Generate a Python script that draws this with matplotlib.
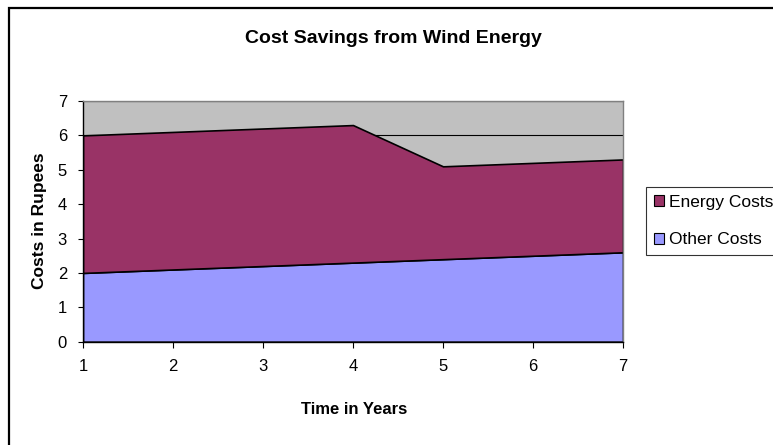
import matplotlib
matplotlib.use("Agg")
import matplotlib.pyplot as plt
from matplotlib.patches import Rectangle, Patch

years = [1, 2, 3, 4, 5, 6, 7]
other_costs = [2.0, 2.1, 2.2, 2.3, 2.4, 2.5, 2.6]
energy_costs = [4.0, 4.0, 4.0, 4.0, 2.7, 2.7, 2.7]
series_names = ["Other Costs", "Energy Costs"]
colors = ["#9999FF", "#993366"]

plt.rcParams['font.family'] = ['Liberation Sans', 'DejaVu Sans']

W, H = 773, 445
fig = plt.figure(figsize=(W / 100, H / 100), dpi=100)

# outer chart frame
fig.patches.append(Rectangle((8.5 / W, -0.1), 2.0, (H - 8.0) / H + 0.1,
                             transform=fig.transFigure, fill=False,
                             edgecolor="black", linewidth=1.6, zorder=0))

ax = fig.add_axes([83 / W, (H - 341.7) / H, (623 - 83) / W, (341.7 - 101) / H])
ax.set_facecolor("#C0C0C0")
ax.stackplot(years, other_costs, energy_costs, colors=colors,
             edgecolor="black", linewidth=1.2, zorder=2)
ax.set_xlim(1, 7)
ax.set_ylim(0, 7)
ax.set_yticks(range(0, 8))
ax.set_xticks(years)
ax.yaxis.grid(True, color="black", linewidth=0.8, zorder=1)
ax.set_axisbelow(True)
for s in ["top", "right"]:
    ax.spines[s].set_color("#808080")
    ax.spines[s].set_linewidth(1.0)
for s in ["left", "bottom"]:
    ax.spines[s].set_color("black")
    ax.spines[s].set_linewidth(1.0)
ax.spines["bottom"].set_zorder(3)
ax.tick_params(axis="y", direction="out", length=3.5, width=0.8, pad=8, labelsize=12)
ax.tick_params(axis="x", direction="out", length=4, width=0.8, pad=8.5, labelsize=12)

fig.text(393 / W, 1 - 38.5 / H, "Cost Savings from Wind Energy", ha="center", va="center",
         fontsize=14, fontweight="bold")
fig.text(40 / W, 1 - 221 / H, "Costs in Rupees", ha="center", va="center",
         rotation=90, fontsize=12.5, fontweight="bold")
fig.text(354.5 / W, 1 - 410 / H, "Time in Years", ha="center", va="center",
         fontsize=12, fontweight="bold")

handles = [Patch(facecolor=colors[1], edgecolor="black", linewidth=0.8),
           Patch(facecolor=colors[0], edgecolor="black", linewidth=0.8)]
leg = fig.legend(handles, [series_names[1], series_names[0]],
                 loc="upper left", bbox_to_anchor=(646 / W, 1 - 187 / H),
                 fancybox=False, frameon=True, edgecolor="black", fontsize=12.5,
                 handlelength=0.6, handleheight=0.6, handletextpad=0.3,
                 borderpad=0.45, labelspacing=1.3, borderaxespad=0)
leg.get_frame().set_linewidth(0.8)

fig.savefig("out.png", dpi=100)
